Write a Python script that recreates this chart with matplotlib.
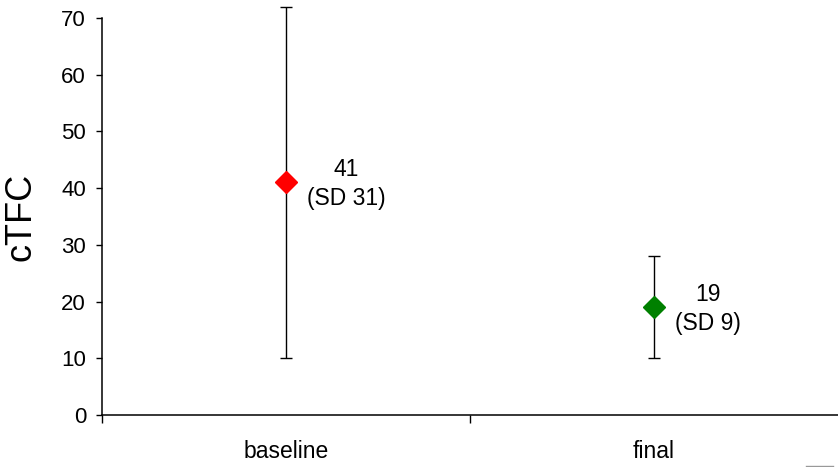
import matplotlib
matplotlib.use("Agg")
import matplotlib.pyplot as plt
from matplotlib.lines import Line2D

plt.rcParams["font.family"] = ["Liberation Sans", "DejaVu Sans"]

# data
groups = ["baseline", "final"]
means = [41, 19]
sds = [31, 9]
marker_colors = ["#ff0000", "#008000"]
notes = ["41\n(SD 31)", "19\n(SD 9)"]
y_ticks = [0, 10, 20, 30, 40, 50, 60, 70]

fig = plt.figure(figsize=(8.38, 4.67), dpi=100)
ax = fig.add_axes([102 / 838, 52 / 467, 736 / 838, 397 / 467])

xs = [i + 0.5 for i in range(len(groups))]
for x, m, s, c, note in zip(xs, means, sds, marker_colors, notes):
    eb = ax.errorbar(x, m, yerr=s, fmt="none", ecolor="black", elinewidth=1.0,
                     capsize=4, capthick=1.0, clip_on=False, zorder=2)
    for art in eb.lines[1] + eb.lines[2]:
        art.set_clip_on(False)
    ax.plot(x, m, marker="D", markersize=11.5, color=c, linestyle="none",
            clip_on=False, zorder=3)
    ax.annotate(note, (x, m), xytext=(15, -1), textcoords="offset points",
                ha="left", va="center", multialignment="center",
                fontsize=16.5, linespacing=1.32)

ax.set_xlim(0, len(groups))
ax.set_ylim(0, 70)
ax.set_yticks(y_ticks)
ax.tick_params(axis="y", direction="out", length=4.5, width=1.0,
               labelsize=16, pad=7)

# category boundaries carry the ticks, labels sit between them
ax.set_xticks([0, 1])
ax.set_xticklabels(["", ""])
ax.set_xticks(xs, minor=True)
ax.set_xticklabels(groups, minor=True)
ax.tick_params(axis="x", which="major", direction="out", length=5.5, width=1.0)
ax.tick_params(axis="x", which="minor", length=0, labelsize=16.5, pad=18)

ax.set_ylabel("cTFC", fontsize=26, labelpad=16)

for side in ("top", "right"):
    ax.spines[side].set_visible(False)
for side in ("left", "bottom"):
    ax.spines[side].set_linewidth(1.1)

# small grey stroke in the lower right corner of the original
fig.add_artist(Line2D([806 / 838, 833 / 838], [1.5 / 467, 1.5 / 467],
                      transform=fig.transFigure, color="#999999", lw=1.0))

fig.savefig("out.png", dpi=100)
